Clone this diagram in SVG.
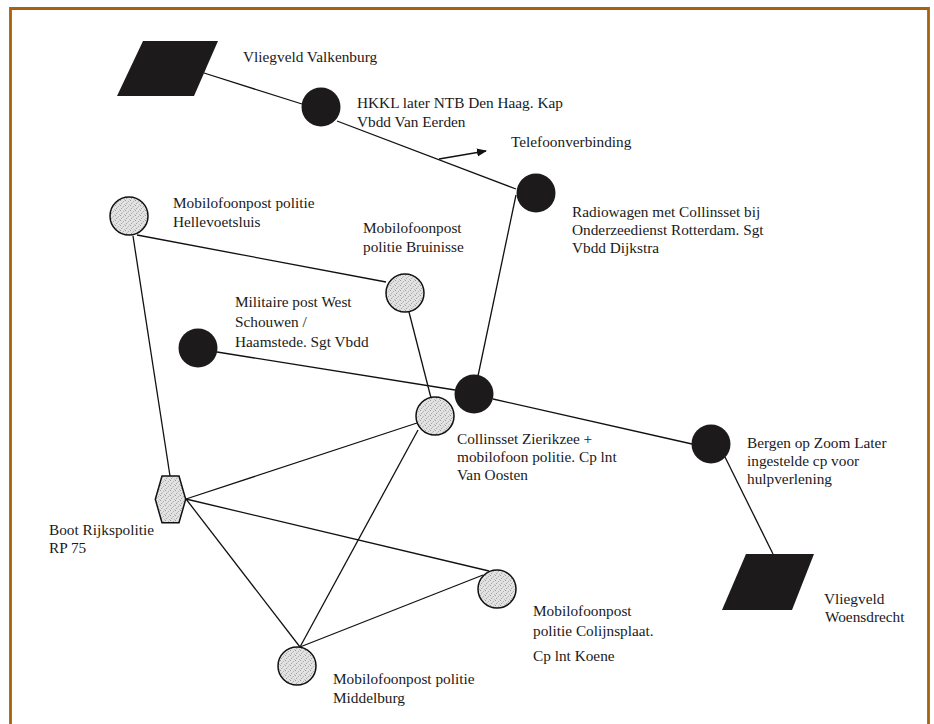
<svg xmlns="http://www.w3.org/2000/svg" width="934" height="724" viewBox="0 0 934 724">
<style>
text{font-family:"Liberation Serif","Times New Roman",serif;font-size:15.3px;fill:#1a1a1a}
.ln{stroke:#111;stroke-width:1.3;fill:none}
.blk{fill:#1c1a1a}
.stp{fill:url(#stip);stroke:#111;stroke-width:1.5}
</style>
<defs>
<pattern id="stip" width="5" height="5" patternUnits="userSpaceOnUse">
<rect width="5" height="5" fill="#e2e2e2"/>
<rect x="0" y="0" width="1" height="1" fill="#9a9a9a"/>
<rect x="3" y="1" width="1" height="1" fill="#b0b0b0"/>
<rect x="1" y="3" width="1" height="1" fill="#a5a5a5"/>
<rect x="4" y="4" width="1" height="1" fill="#bcbcbc"/>
<rect x="2" y="2" width="1" height="1" fill="#c4c4c4"/>
</pattern>
<marker id="arr" viewBox="0 0 10 10" refX="9" refY="5" markerWidth="10" markerHeight="10" markerUnits="userSpaceOnUse" orient="auto">
<path d="M0,1 L10,5 L0,9 Z" fill="#111"/>
</marker>
</defs>
<rect width="934" height="724" fill="#fff"/>
<path d="M10.5 726 V8.5 H928.5 V726" fill="none" stroke="#A6620F" stroke-width="2.8"/>

<g id="connectors">
<line class="ln" x1="204" y1="73" x2="302" y2="104"/>
<line class="ln" x1="337" y1="121" x2="516" y2="189"/>
<line class="ln" x1="516" y1="195" x2="478" y2="376"/>
<line class="ln" x1="137" y1="235" x2="386" y2="282"/>
<line class="ln" x1="133" y1="236" x2="170" y2="476"/>
<line class="ln" x1="409" y1="312" x2="431" y2="398"/>
<line class="ln" x1="217" y1="352" x2="455" y2="390"/>
<line class="ln" x1="493" y1="399" x2="692" y2="444"/>
<line class="ln" x1="725" y1="457" x2="773" y2="554"/>
<line class="ln" x1="186" y1="499" x2="417" y2="423"/>
<line class="ln" x1="186" y1="499" x2="489" y2="571"/>
<line class="ln" x1="186" y1="499" x2="300" y2="647"/>
<line class="ln" x1="418" y1="430" x2="300" y2="647"/>
<line class="ln" x1="300" y1="647" x2="483" y2="575"/>
<line class="ln" x1="439" y1="159" x2="486" y2="151" marker-end="url(#arr)"/>
<text x="511" y="147">Telefoonverbinding</text>
</g>

<g id="valkenburg">
<polygon class="blk" points="143,41 218,41 194,96 117,96"/>
<text x="243" y="62">Vliegveld Valkenburg</text>
</g>
<g id="hkkl">
<circle class="blk" cx="321" cy="107" r="19.5"/>
<text x="357" y="108">HKKL later NTB Den Haag. Kap</text>
<text x="357" y="127">Vbdd Van Eerden</text>
</g>
<g id="radiowagen">
<circle class="blk" cx="536" cy="193" r="19.5"/>
<text x="572" y="217">Radiowagen met Collinsset bij</text>
<text x="572" y="235">Onderzeedienst Rotterdam. Sgt</text>
<text x="572" y="253">Vbdd Dijkstra</text>
</g>
<g id="hellevoetsluis">
<circle class="stp" cx="129" cy="216" r="19"/>
<text x="173" y="208">Mobilofoonpost politie</text>
<text x="173" y="227">Hellevoetsluis</text>
</g>
<g id="bruinisse">
<circle class="stp" cx="405" cy="293" r="19"/>
<text x="363" y="233">Mobilofoonpost</text>
<text x="363" y="252">politie Bruinisse</text>
</g>
<g id="militaire">
<circle class="blk" cx="198" cy="348" r="19.5"/>
<text x="235" y="307">Militaire post West</text>
<text x="235" y="327">Schouwen /</text>
<text x="235" y="347">Haamstede. Sgt Vbdd</text>
</g>
<g id="collinsset">
<circle class="blk" cx="474" cy="394" r="19.5"/>
</g>
<g id="zierikzee">
<circle class="stp" cx="435" cy="416" r="19"/>
<text x="457" y="444">Collinsset Zierikzee +</text>
<text x="457" y="462">mobilofoon politie. Cp lnt</text>
<text x="457" y="480">Van Oosten</text>
</g>
<g id="bergen">
<circle class="blk" cx="711" cy="444" r="19.5"/>
<text x="747" y="448">Bergen op Zoom Later</text>
<text x="747" y="466">ingestelde cp voor</text>
<text x="747" y="484">hulpverlening</text>
</g>
<g id="woensdrecht">
<polygon class="blk" points="746,554 814,554 792,610 722,610"/>
<text x="824" y="604">Vliegveld</text>
<text x="825" y="622">Woensdrecht</text>
</g>
<g id="boot">
<polygon class="stp" points="162,476 179,476 185.7,499.3 179,522.7 162,522.7 155.3,499.3"/>
<text x="49" y="535">Boot Rijkspolitie</text>
<text x="49" y="553">RP 75</text>
</g>
<g id="colijnsplaat">
<circle class="stp" cx="497" cy="589" r="19"/>
<text x="533" y="616">Mobilofoonpost</text>
<text x="533" y="636">politie Colijnsplaat.</text>
<text x="533" y="661">Cp lnt Koene</text>
</g>
<g id="middelburg">
<circle class="stp" cx="297" cy="666" r="19"/>
<text x="333" y="684">Mobilofoonpost politie</text>
<text x="333" y="703">Middelburg</text>
</g>
</svg>
